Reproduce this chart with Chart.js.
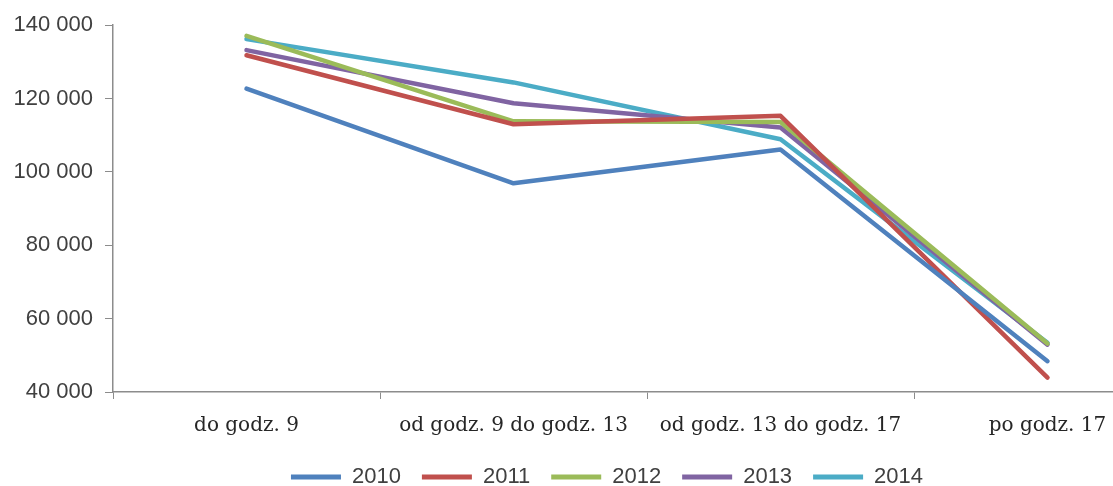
<!DOCTYPE html>
<html>
<head>
<meta charset="utf-8">
<script src="https://cdn.jsdelivr.net/npm/chart.js@4/dist/chart.umd.min.js"></script>
<style>
  html, body { margin: 0; padding: 0; background: #fff; overflow: hidden; }
  #wrap { width: 1214px; height: 498px; }
</style>
</head>
<body>
<div id="wrap"><canvas id="chart" width="1214" height="498"></canvas></div>
<script>
const categories = ['do godz. 9', 'od godz. 9 do godz. 13', 'od godz. 13 do godz. 17', 'po godz. 17'];
const years = ['2010', '2011', '2012', '2013', '2014'];
const values2010 = [122700, 96900, 106100, 48400];
const values2011 = [131800, 113000, 115300, 43900];
const values2012 = [137100, 113800, 113600, 53200];
const values2013 = [133200, 118700, 112100, 52900];
const values2014 = [136200, 124400, 108900, 53400];
const colors = ['#4F81BD', '#C0504D', '#9BBB59', '#8064A2', '#4BACC6'];

const series = [values2010, values2011, values2012, values2013, values2014];

const formatThousands = (v) => String(v).replace(/\B(?=(\d{3})+(?!\d))/g, ' ');

document.addEventListener('DOMContentLoaded', () => {
    const ctx = document.getElementById('chart').getContext('2d');

    new Chart(ctx, {
        type: 'line',
        data: {
            labels: categories,
            datasets: series.map((vals, i) => ({
                label: years[i],
                data: vals,
                borderColor: colors[i],
                backgroundColor: colors[i],
                borderWidth: 4.5,
                borderCapStyle: 'round',
                borderJoinStyle: 'round',
                pointRadius: 0,
                tension: 0
            }))
        },
        options: {
            responsive: false,
            animation: false,
            layout: { padding: { top: 23, right: 0, bottom: 0, left: 0 } },
            plugins: {
                tooltip: { enabled: false },
                legend: {
                    position: 'bottom',
                    labels: {
                        boxWidth: 50,
                        boxHeight: 5,
                        padding: 21,
                        color: '#404040',
                        font: { family: 'Liberation Sans', size: 22 },
                        generateLabels: (chart) => chart.data.datasets.map((ds, i) => ({
                            text: ds.label,
                            fillStyle: ds.borderColor,
                            strokeStyle: ds.borderColor,
                            lineWidth: 0,
                            fontColor: '#404040',
                            datasetIndex: i
                        }))
                    }
                }
            },
            scales: {
                x: {
                    offset: true,
                    grid: {
                        offset: true,
                        drawOnChartArea: false,
                        drawTicks: true,
                        tickLength: 7,
                        color: '#8c8c8c'
                    },
                    border: { color: '#8c8c8c', width: 1.5 },
                    ticks: {
                        color: '#262626',
                        padding: 15,
                        maxRotation: 0,
                        autoSkip: false,
                        font: { family: 'DejaVu Serif', size: 20 }
                    },
                    afterFit: (scale) => { scale.height = 53; }
                },
                y: {
                    min: 40000,
                    max: 140000,
                    grid: {
                        drawOnChartArea: false,
                        drawTicks: true,
                        tickLength: 8,
                        color: '#8c8c8c'
                    },
                    border: { color: '#8c8c8c', width: 1.5 },
                    ticks: {
                        stepSize: 20000,
                        padding: 12,
                        color: '#404040',
                        font: { family: 'Liberation Sans', size: 22 },
                        callback: (v) => formatThousands(v)
                    },
                    afterFit: (scale) => { scale.width = 113; }
                },
                // empty right-hand spacer so the plot runs past the cropped edge
                spacer: {
                    type: 'linear',
                    position: 'right',
                    display: true,
                    grid: { display: false },
                    border: { display: false },
                    ticks: { display: false },
                    afterFit: (scale) => { scale.width = 33; }
                }
            }
        }
    });
});
</script>
</body>
</html>
